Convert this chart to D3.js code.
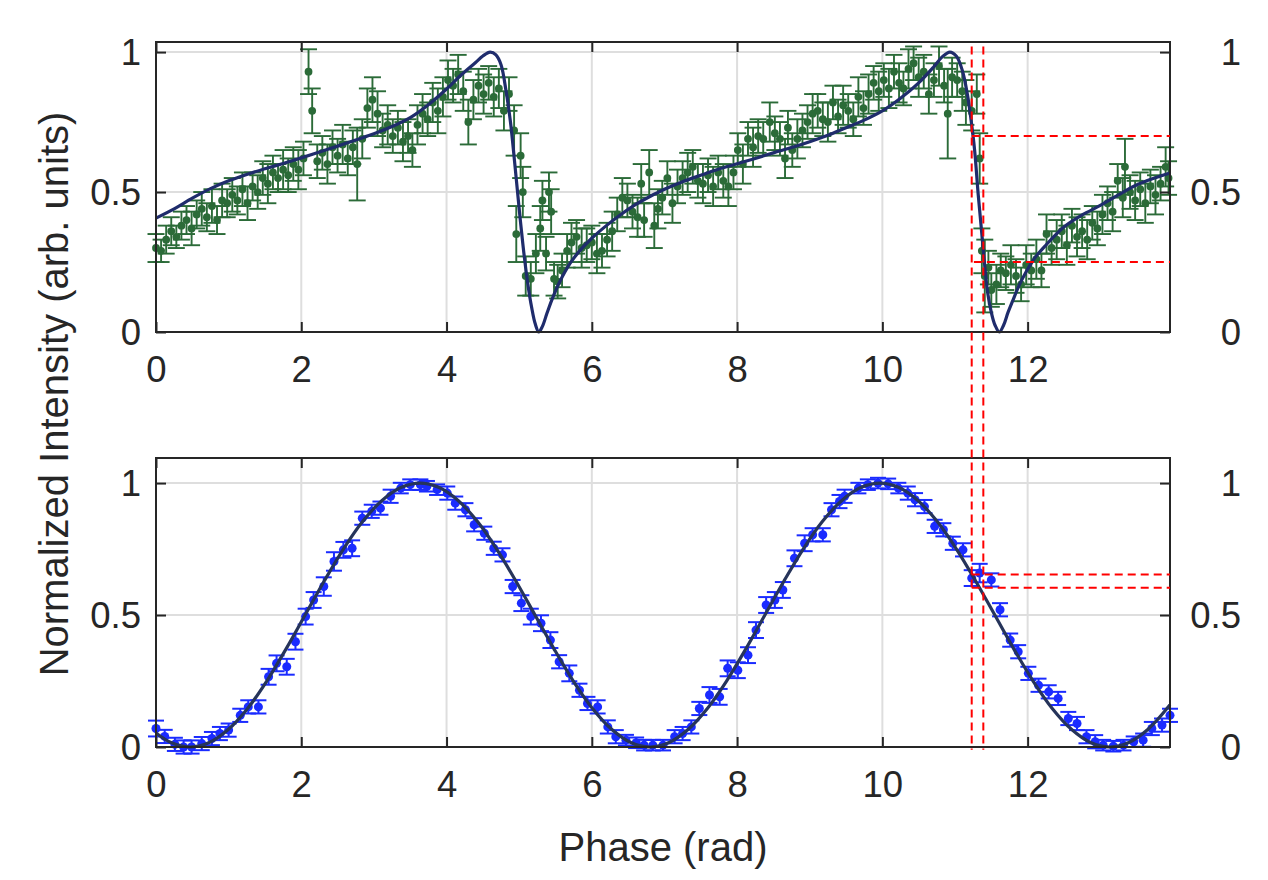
<!DOCTYPE html>
<html>
<head>
<meta charset="utf-8">
<script src="https://cdn.jsdelivr.net/npm/d3@7"></script>
<style>
  html, body { margin: 0; padding: 0; background: #ffffff; }
  svg { display: block; }
  text { font-family: "Liberation Sans", Arial, Helvetica, sans-serif; fill: #262626; }
</style>
</head>
<body>
<svg id="chart" width="1268" height="880"></svg>
<script>
// ---------------- data ----------------
const xTicks = [0, 2, 4, 6, 8, 10, 12];
const yTicks = [0, 0.5, 1];
const yTickLabels = ["0", "0.5", "1"];

// top panel measured points
const topPhase = [0.00,0.07,0.14,0.21,0.28,0.35,0.42,0.49,0.56,0.63,0.70,0.77,0.84,0.91,0.98,1.05,1.12,1.19,1.26,1.33,1.40,1.47,1.54,1.61,1.68,1.75,1.82,1.89,1.96,2.03,2.10,2.15,2.22,2.29,2.36,2.43,2.50,2.57,2.64,2.71,2.77,2.84,2.91,2.98,3.05,3.12,3.19,3.26,3.33,3.40,3.47,3.53,3.60,3.67,3.74,3.81,3.88,3.95,4.02,4.09,4.16,4.23,4.30,4.37,4.44,4.51,4.58,4.65,4.72,4.79,4.86,4.93,4.96,5.02,5.05,5.09,5.16,5.23,5.29,5.32,5.37,5.41,5.44,5.48,5.53,5.59,5.66,5.72,5.79,5.86,5.93,6.00,6.07,6.14,6.21,6.28,6.35,6.42,6.49,6.56,6.63,6.68,6.72,6.79,6.86,6.91,6.97,7.04,7.11,7.18,7.25,7.32,7.39,7.46,7.53,7.60,7.67,7.74,7.81,7.88,7.95,8.01,8.08,8.15,8.22,8.29,8.36,8.45,8.52,8.59,8.66,8.70,8.76,8.83,8.90,8.97,9.04,9.11,9.18,9.25,9.32,9.39,9.46,9.53,9.60,9.67,9.74,9.81,9.88,9.95,10.02,10.09,10.16,10.23,10.29,10.36,10.43,10.50,10.57,10.64,10.71,10.78,10.85,10.90,10.96,11.03,11.10,11.15,11.23,11.30,11.34,11.37,11.41,11.46,11.50,11.57,11.63,11.70,11.77,11.84,11.91,11.98,12.05,12.12,12.19,12.26,12.33,12.40,12.47,12.54,12.61,12.68,12.75,12.82,12.89,12.96,13.03,13.10,13.17,13.24,13.31,13.34,13.41,13.48,13.55,13.62,13.69,13.76,13.83,13.90,13.94];
const topValue = [0.30,0.29,0.33,0.36,0.34,0.38,0.40,0.37,0.42,0.44,0.41,0.45,0.40,0.47,0.46,0.49,0.47,0.51,0.46,0.52,0.50,0.55,0.53,0.57,0.55,0.58,0.56,0.60,0.58,0.62,0.93,0.79,0.61,0.64,0.60,0.66,0.63,0.67,0.62,0.66,0.60,0.69,0.80,0.83,0.78,0.72,0.74,0.70,0.73,0.68,0.70,0.65,0.74,0.78,0.76,0.82,0.79,0.84,0.90,0.88,0.92,0.86,0.75,0.83,0.88,0.85,0.89,0.84,0.87,0.79,0.85,0.72,0.35,0.63,0.50,0.20,0.19,0.28,0.37,0.47,0.28,0.50,0.43,0.19,0.18,0.22,0.29,0.32,0.34,0.30,0.31,0.32,0.28,0.29,0.33,0.36,0.42,0.48,0.47,0.43,0.41,0.53,0.40,0.57,0.38,0.44,0.48,0.55,0.46,0.52,0.55,0.57,0.59,0.54,0.53,0.56,0.52,0.57,0.54,0.52,0.57,0.65,0.60,0.69,0.66,0.70,0.69,0.75,0.71,0.69,0.62,0.73,0.65,0.69,0.72,0.75,0.78,0.79,0.76,0.75,0.82,0.77,0.81,0.79,0.76,0.84,0.80,0.85,0.89,0.86,0.90,0.87,0.93,0.89,0.87,0.94,0.96,0.91,0.93,0.85,0.90,0.95,0.88,0.78,0.91,0.90,0.86,0.82,0.79,0.85,0.62,0.29,0.20,0.23,0.15,0.17,0.22,0.21,0.24,0.20,0.17,0.24,0.22,0.26,0.22,0.35,0.30,0.33,0.36,0.31,0.38,0.34,0.36,0.33,0.39,0.37,0.42,0.46,0.43,0.54,0.48,0.59,0.50,0.47,0.51,0.46,0.52,0.49,0.53,0.59,0.55];
const topError = [0.05,0.04,0.05,0.05,0.04,0.05,0.05,0.06,0.05,0.06,0.05,0.06,0.05,0.06,0.05,0.06,0.05,0.06,0.06,0.05,0.06,0.06,0.07,0.06,0.05,0.07,0.06,0.06,0.07,0.06,0.08,0.08,0.06,0.06,0.07,0.06,0.06,0.07,0.06,0.06,0.13,0.07,0.07,0.08,0.08,0.06,0.07,0.06,0.06,0.07,0.06,0.06,0.07,0.07,0.06,0.07,0.08,0.07,0.07,0.06,0.07,0.07,0.08,0.07,0.06,0.07,0.06,0.07,0.07,0.07,0.06,0.09,0.10,0.08,0.09,0.07,0.06,0.07,0.08,0.07,0.06,0.07,0.08,0.06,0.06,0.06,0.06,0.07,0.06,0.07,0.06,0.06,0.07,0.06,0.06,0.07,0.06,0.07,0.06,0.06,0.07,0.07,0.06,0.08,0.08,0.07,0.06,0.06,0.07,0.06,0.06,0.07,0.06,0.06,0.07,0.06,0.07,0.06,0.06,0.07,0.06,0.06,0.07,0.06,0.07,0.06,0.06,0.07,0.06,0.06,0.07,0.06,0.06,0.07,0.06,0.06,0.07,0.06,0.06,0.07,0.06,0.06,0.07,0.06,0.06,0.07,0.06,0.07,0.06,0.07,0.06,0.07,0.06,0.07,0.06,0.07,0.06,0.07,0.06,0.07,0.06,0.07,0.06,0.16,0.07,0.06,0.07,0.08,0.07,0.07,0.09,0.08,0.13,0.06,0.06,0.07,0.06,0.06,0.07,0.06,0.06,0.07,0.06,0.07,0.06,0.07,0.06,0.07,0.06,0.07,0.06,0.07,0.06,0.07,0.06,0.06,0.07,0.06,0.07,0.06,0.07,0.10,0.06,0.07,0.06,0.07,0.06,0.07,0.06,0.07,0.06];

// top panel fit curve
const topFitPhase = [0,0.25,0.5,0.75,1.0,1.25,1.5,1.75,2.0,2.25,2.5,2.75,3.0,3.25,3.5,3.75,4.0,4.2,4.4,4.5,4.6,4.68,4.75,4.82,4.88,4.94,5.0,5.07,5.12,5.17,5.22,5.27,5.32,5.38,5.45,5.55,5.7,5.85,6.0,6.2,6.4,6.6,6.8,7.0,7.25,7.5,7.75,8.0,8.25,8.5,8.75,9.0,9.25,9.5,9.75,10.0,10.25,10.5,10.7,10.82,10.93,11.02,11.1,11.17,11.22,11.27,11.32,11.38,11.45,11.5,11.55,11.61,11.67,11.73,11.8,11.88,11.98,12.1,12.25,12.5,12.75,13.0,13.25,13.5,13.75,13.96];
const topFitValue = [0.407,0.44,0.478,0.512,0.54,0.563,0.583,0.602,0.622,0.643,0.664,0.686,0.708,0.734,0.766,0.812,0.868,0.918,0.963,0.986,1.0,0.99,0.955,0.86,0.75,0.6,0.44,0.27,0.17,0.09,0.03,0.0,0.02,0.065,0.115,0.175,0.245,0.295,0.335,0.38,0.42,0.455,0.484,0.51,0.537,0.56,0.582,0.601,0.62,0.64,0.659,0.68,0.703,0.73,0.757,0.79,0.835,0.89,0.945,0.982,1.0,0.985,0.935,0.85,0.76,0.65,0.49,0.32,0.14,0.07,0.025,0.0,0.025,0.07,0.115,0.165,0.215,0.265,0.31,0.375,0.418,0.452,0.49,0.525,0.55,0.568];

// bottom panel measured points
const botPhase = [0.00,0.12,0.26,0.38,0.49,0.63,0.77,0.88,1.00,1.16,1.27,1.41,1.55,1.66,1.80,1.92,2.06,2.17,2.31,2.45,2.58,2.70,2.84,2.97,3.09,3.23,3.37,3.50,3.64,3.73,3.87,4.01,4.12,4.26,4.38,4.52,4.65,4.77,4.91,5.03,5.16,5.30,5.43,5.55,5.69,5.83,5.94,6.08,6.22,6.33,6.47,6.61,6.72,6.84,6.98,7.14,7.25,7.37,7.48,7.62,7.76,7.87,8.01,8.15,8.26,8.40,8.52,8.63,8.79,8.93,9.04,9.18,9.30,9.41,9.48,9.67,9.80,9.94,10.08,10.22,10.35,10.45,10.58,10.72,10.84,10.97,11.11,11.23,11.34,11.50,11.62,11.76,11.87,12.01,12.15,12.29,12.42,12.56,12.68,12.81,12.93,13.04,13.18,13.32,13.46,13.59,13.71,13.85,13.96];
const botValue = [0.07,0.04,0.01,0.00,0.00,0.013,0.032,0.051,0.064,0.12,0.152,0.152,0.266,0.317,0.304,0.399,0.494,0.557,0.608,0.703,0.747,0.753,0.867,0.893,0.905,0.95,0.981,0.994,0.994,0.988,0.975,0.962,0.924,0.899,0.842,0.81,0.753,0.728,0.608,0.545,0.494,0.469,0.405,0.323,0.279,0.215,0.165,0.152,0.076,0.039,0.026,0.016,0.007,0.007,0.007,0.039,0.051,0.076,0.146,0.197,0.19,0.298,0.291,0.348,0.443,0.538,0.557,0.595,0.715,0.772,0.804,0.804,0.899,0.93,0.95,0.981,0.994,1.0,0.997,0.981,0.962,0.937,0.911,0.836,0.823,0.772,0.747,0.64,0.659,0.633,0.52,0.405,0.361,0.279,0.234,0.209,0.184,0.108,0.089,0.039,0.02,0.007,0.003,0.007,0.02,0.026,0.07,0.083,0.12];
const botError = [0.03,0.025,0.025,0.025,0.025,0.025,0.025,0.025,0.025,0.025,0.025,0.025,0.03,0.03,0.03,0.03,0.03,0.03,0.035,0.035,0.03,0.03,0.025,0.025,0.025,0.025,0.02,0.02,0.02,0.02,0.02,0.025,0.025,0.025,0.025,0.025,0.025,0.025,0.025,0.03,0.03,0.03,0.03,0.025,0.03,0.025,0.025,0.025,0.025,0.025,0.02,0.02,0.02,0.02,0.02,0.025,0.025,0.025,0.025,0.03,0.03,0.03,0.03,0.03,0.03,0.03,0.03,0.03,0.03,0.03,0.025,0.025,0.025,0.025,0.025,0.02,0.02,0.02,0.02,0.02,0.025,0.025,0.025,0.025,0.025,0.025,0.025,0.03,0.035,0.025,0.025,0.025,0.025,0.025,0.025,0.025,0.025,0.025,0.025,0.025,0.025,0.02,0.02,0.02,0.02,0.025,0.025,0.025,0.025];

// bottom panel fit curve
const botFitPhase = [0,0.206,0.47,0.734,0.998,1.261,1.525,1.789,2.053,2.316,2.58,2.844,3.108,3.371,3.635,3.899,4.163,4.426,4.69,4.954,5.218,5.481,5.745,6.009,6.273,6.536,6.8,7.064,7.328,7.591,7.855,8.119,8.383,8.646,8.91,9.174,9.438,9.701,9.965,10.229,10.493,10.756,11.02,11.284,11.548,11.811,12.075,12.339,12.603,12.866,13.13,13.394,13.658,13.96];
const botFitValue = [0.053,0.017,0,0.017,0.067,0.146,0.25,0.371,0.5,0.629,0.75,0.854,0.933,0.983,1,0.983,0.933,0.854,0.75,0.629,0.5,0.371,0.25,0.146,0.067,0.017,0,0.017,0.067,0.146,0.25,0.371,0.5,0.629,0.75,0.854,0.933,0.983,1,0.983,0.933,0.854,0.75,0.629,0.5,0.371,0.25,0.146,0.067,0.017,0,0.017,0.067,0.16];

// red dashed markers
const markPhase = [11.23, 11.39];
const markTopLevels = [0.70, 0.25];
const markBotLevels = [0.654, 0.603];

// ---------------- drawing ----------------
const svg = d3.select("#chart");
const W = 1268, H = 880;
svg.append("rect").attr("width", W).attr("height", H).attr("fill", "#fff");

const L = 156, R = 1170;
const x = d3.scaleLinear().domain([0, 13.96]).range([L, R]);
const panels = [
  { top: 42, bottom: 332, ymax: 1.036, labelBase: 24,
    phase: topPhase, value: topValue, err: topError,
    fitX: topFitPhase, fitY: topFitValue, col: "#2b6b38", fitCol: "#1f2c6c",
    r: 3.9, cap: 8.5, sw: 1.9, levels: markTopLevels, levelStart: [11.23, 11.26] },
  { top: 458, bottom: 747, ymax: 1.095, labelBase: 24,
    phase: botPhase, value: botValue, err: botError,
    fitX: botFitPhase, fitY: botFitValue, col: "#1a2bff", fitCol: "#26345a",
    r: 4.5, cap: 8, sw: 2, levels: markBotLevels, levelStart: [11.23, 11.23] }
];

const axisColor = "#262626";
const gridColor = "#dedede";
const fontTick = 36.5;

panels.forEach(p => {
  const y = d3.scaleLinear().domain([0, p.ymax]).range([p.bottom, p.top]);
  p.y = y;
  const g = svg.append("g");

  // grid
  g.selectAll(".gx").data(xTicks.filter(t => t > 0)).enter().append("line")
    .attr("x1", d => x(d)).attr("x2", d => x(d))
    .attr("y1", p.top).attr("y2", p.bottom)
    .attr("stroke", gridColor).attr("stroke-width", 2);
  g.selectAll(".gy").data(yTicks.filter(t => t > 0)).enter().append("line")
    .attr("x1", L).attr("x2", R)
    .attr("y1", d => y(d)).attr("y2", d => y(d))
    .attr("stroke", gridColor).attr("stroke-width", 2);

  // error bars
  const pts = p.phase.map((ph, i) => ({ x: ph, v: p.value[i], e: p.err[i] }));
  const eb = g.append("g").attr("stroke", p.col).attr("stroke-width", p.sw).attr("fill", "none");
  eb.selectAll(".ev").data(pts).enter().append("line")
    .attr("x1", d => x(d.x)).attr("x2", d => x(d.x))
    .attr("y1", d => y(d.v - d.e)).attr("y2", d => y(d.v + d.e));
  eb.selectAll(".ct").data(pts).enter().append("line")
    .attr("x1", d => x(d.x) - p.cap).attr("x2", d => x(d.x) + p.cap)
    .attr("y1", d => y(d.v + d.e)).attr("y2", d => y(d.v + d.e));
  eb.selectAll(".cb").data(pts).enter().append("line")
    .attr("x1", d => x(d.x) - p.cap).attr("x2", d => x(d.x) + p.cap)
    .attr("y1", d => y(d.v - d.e)).attr("y2", d => y(d.v - d.e));
  g.append("g").selectAll("circle").data(pts).enter().append("circle")
    .attr("cx", d => x(d.x)).attr("cy", d => y(d.v)).attr("r", p.r)
    .attr("fill", p.col);

  // fit curve
  const fit = p.fitX.map((ph, i) => [ph, p.fitY[i]]);
  g.append("path").datum(fit)
    .attr("d", d3.line().x(d => x(d[0])).y(d => y(d[1])).curve(d3.curveCatmullRom.alpha(0.5)))
    .attr("fill", "none").attr("stroke", p.fitCol).attr("stroke-width", 3.2)
    .attr("stroke-linejoin", "round");

  // horizontal red dashed markers
  p.levels.forEach((lv, i) => {
    svg.append("line")
      .attr("x1", x(p.levelStart[i])).attr("x2", R)
      .attr("y1", y(lv)).attr("y2", y(lv))
      .attr("stroke", "#ff0000").attr("stroke-width", 2)
      .attr("stroke-dasharray", "8,5");
  });

  // axes (ticks inward, box)
  const fmt = d => yTickLabels[yTicks.indexOf(d)];
  const ax = g.append("g").attr("transform", `translate(0,${p.bottom})`)
    .call(d3.axisBottom(x).tickValues(xTicks).tickSize(-10).tickSizeOuter(0).tickPadding(p.labelBase).tickFormat(d3.format("d")));
  const axT = g.append("g").attr("transform", `translate(0,${p.top})`)
    .call(d3.axisTop(x).tickValues(xTicks).tickSize(-10).tickSizeOuter(0).tickFormat(""));
  const ayL = g.append("g").attr("transform", `translate(${L},0)`)
    .call(d3.axisLeft(y).tickValues(yTicks).tickSize(-10).tickSizeOuter(0).tickPadding(15).tickFormat(fmt));
  const ayR = g.append("g").attr("transform", `translate(${R},0)`)
    .call(d3.axisRight(y).tickValues(yTicks).tickSize(-10).tickSizeOuter(0).tickPadding(15).tickFormat(fmt));

  [ax, axT, ayL, ayR].forEach(a => {
    a.selectAll(".domain").remove();
    a.selectAll(".tick line").attr("stroke", axisColor).attr("stroke-width", 2);
    a.selectAll(".tick text").attr("font-size", fontTick).attr("fill", axisColor)
      .style("font-family", "'Liberation Sans', Arial, Helvetica, sans-serif");
  });
  ayL.selectAll(".tick text").attr("dy", "0.35em");
  ayR.selectAll(".tick text").attr("text-anchor", "end").attr("x", 71).attr("dy", "0.35em");
  ax.selectAll(".tick text").attr("dy", "0.71em");

  g.append("rect").attr("x", L).attr("y", p.top)
    .attr("width", R - L).attr("height", p.bottom - p.top)
    .attr("fill", "none").attr("stroke", axisColor).attr("stroke-width", 2);
});

// vertical red dashed markers spanning both panels
markPhase.forEach(ph => {
  svg.append("line")
    .attr("x1", x(ph)).attr("x2", x(ph))
    .attr("y1", panels[0].y(1.02)).attr("y2", panels[1].y(-0.01))
    .attr("stroke", "#ff0000").attr("stroke-width", 2)
    .attr("stroke-dasharray", "8,5");
});

// axis titles
svg.append("text")
  .attr("transform", "translate(68,394) rotate(-90)")
  .attr("text-anchor", "middle").attr("font-size", 40)
  .text("Normalized Intensity (arb. units)");
svg.append("text")
  .attr("x", 663).attr("y", 861)
  .attr("text-anchor", "middle").attr("font-size", 40)
  .text("Phase (rad)");
</script>
</body>
</html>
